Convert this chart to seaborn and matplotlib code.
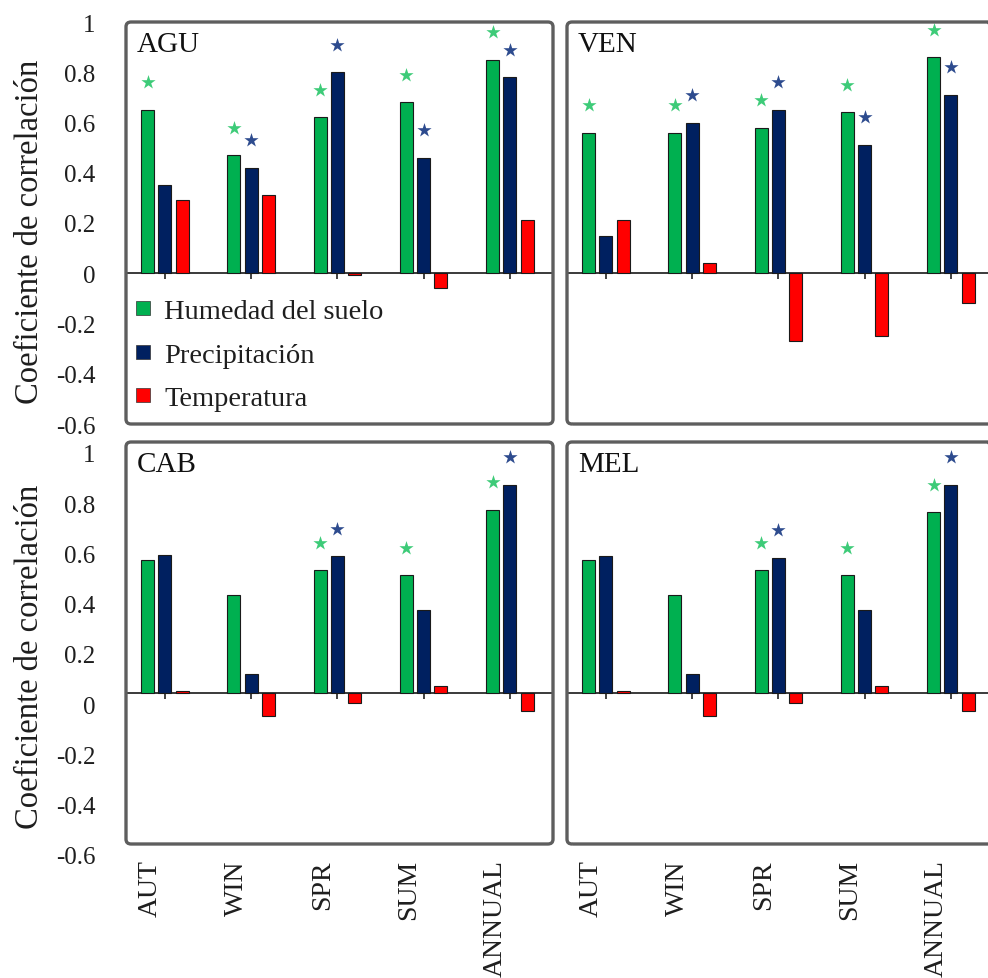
import numpy as np
import pandas as pd
import matplotlib
matplotlib.use("Agg")
import matplotlib.pyplot as plt
import matplotlib.transforms as mtransforms
from matplotlib.patches import FancyBboxPatch
from matplotlib.lines import Line2D
import seaborn as sns

# ---- data -------------------------------------------------------------
seasons = ["AUT", "WIN", "SPR", "SUM", "ANNUAL"]
variables = ["Humedad del suelo", "Precipitación", "Temperatura"]

agu_soil = [0.65, 0.47, 0.62, 0.68, 0.85]
agu_prec = [0.35, 0.42, 0.80, 0.46, 0.78]
agu_temp = [0.29, 0.31, -0.006, -0.06, 0.21]
agu_sig_soil = [1, 1, 1, 1, 1]
agu_sig_prec = [0, 1, 1, 1, 1]

ven_soil = [0.56, 0.56, 0.58, 0.64, 0.86]
ven_prec = [0.15, 0.60, 0.65, 0.51, 0.71]
ven_temp = [0.21, 0.04, -0.27, -0.25, -0.12]
ven_sig_soil = [1, 1, 1, 1, 1]
ven_sig_prec = [0, 1, 1, 1, 1]

cab_soil = [0.53, 0.39, 0.49, 0.47, 0.73]
cab_prec = [0.55, 0.075, 0.545, 0.33, 0.83]
cab_temp = [0.01, -0.09, -0.04, 0.03, -0.07]
cab_sig_soil = [0, 0, 1, 1, 1]
cab_sig_prec = [0, 0, 1, 0, 1]

mel_soil = [0.53, 0.39, 0.49, 0.47, 0.72]
mel_prec = [0.545, 0.075, 0.54, 0.33, 0.83]
mel_temp = [0.01, -0.09, -0.04, 0.03, -0.07]
mel_sig_soil = [0, 0, 1, 1, 1]
mel_sig_prec = [0, 0, 1, 0, 1]

stations = ["AGU", "VEN", "CAB", "MEL"]
panel_data = {
    "AGU": (agu_soil, agu_prec, agu_temp, agu_sig_soil, agu_sig_prec),
    "VEN": (ven_soil, ven_prec, ven_temp, ven_sig_soil, ven_sig_prec),
    "CAB": (cab_soil, cab_prec, cab_temp, cab_sig_soil, cab_sig_prec),
    "MEL": (mel_soil, mel_prec, mel_temp, mel_sig_soil, mel_sig_prec),
}

yticks = [-0.6, -0.4, -0.2, 0, 0.2, 0.4, 0.6, 0.8, 1]
ytick_labels = ["-0.6", "-0.4", "-0.2", "0", "0.2", "0.4", "0.6", "0.8", "1"]

# ---- style ------------------------------------------------------------
sns.set_style("white")
plt.rcParams["font.family"] = ["Liberation Serif", "DejaVu Serif"]

bar_colors = ["#00B050", "#002060", "#FF0000"]
star_colors = ["#3DCB78", "#2D4B8E"]
text_color = "#1e1e1e"
ymin, ymax = -0.6, 1.0

fig = plt.figure(figsize=(9.88, 9.79), dpi=100)

W, H = 988, 979
def px_axes(left, top, width, height):
    return fig.add_axes([left / W, 1 - (top + height) / H, width / W, height / H])

positions = {
    "AGU": (126, 23, 427, 402),
    "VEN": (567, 23, 427, 402),
    "CAB": (126, 443, 427, 402),
    "MEL": (567, 443, 427, 402),
}

for name in stations:
    soil, prec, temp, sig_s, sig_p = panel_data[name]
    ax = px_axes(*positions[name])
    df = pd.DataFrame({
        "season": seasons * 3,
        "variable": [variables[0]] * 5 + [variables[1]] * 5 + [variables[2]] * 5,
        "value": list(soil) + list(prec) + list(temp),
    })
    sns.barplot(data=df, x="season", y="value", hue="variable",
                order=seasons, hue_order=variables, palette=bar_colors,
                width=0.6, gap=0.25, edgecolor="#1a1a1a", linewidth=0.8,
                saturation=1, legend=False, ax=ax, zorder=2)

    # significance markers above the soil-moisture and precipitation bars
    xs = np.arange(len(seasons))
    for offset, vals, sig, col in ((-0.2, soil, sig_s, star_colors[0]),
                                   (0.0, prec, sig_p, star_colors[1])):
        v = np.asarray(vals)
        m = np.asarray(sig, dtype=bool)
        ax.scatter(xs[m] + offset, v[m] + 0.11, marker="*", s=115,
                   color=col, linewidths=0, zorder=3)

    ax.set_xlim(-0.45, 4.5)
    ax.set_ylim(ymin, ymax)
    ax.set_xlabel("")
    ax.set_ylabel("")

    # zero line with category ticks
    sec = ax.secondary_xaxis((0 - ymin) / (ymax - ymin))
    sec.set_xticks(xs)
    sec.tick_params(axis="x", length=4, width=1.3, color="#333333",
                    direction="out", labelbottom=False, labeltop=False)
    for sp in sec.spines.values():
        sp.set_color("#3a3a3a")
        sp.set_linewidth(1.4)

    for sp in ax.spines.values():
        sp.set_visible(False)
    frame = FancyBboxPatch((0, 0), 1, 1, boxstyle="round,pad=0,rounding_size=0.012",
                           transform=ax.transAxes, fill=False,
                           edgecolor="#5e5e5e", linewidth=2.4, clip_on=False, zorder=5)
    ax.add_patch(frame)

    ax.text(0.026, 0.945, name, transform=ax.transAxes, ha="left", va="center",
            fontsize=21, color="#111111")

    left_col = name in ("AGU", "CAB")
    bottom_row = name in ("CAB", "MEL")

    if left_col:
        ax.set_yticks(yticks, ytick_labels)
        ax.tick_params(axis="y", length=0, pad=22, labelsize=18, labelcolor=text_color)
        ax.set_ylabel("Coeficiente de correlación", fontsize=23.5, color=text_color)
        ax.yaxis.set_label_coords(-0.19, 0.48 if not bottom_row else 0.467)
        if bottom_row:
            shift = mtransforms.ScaledTranslation(0, -11 / 100, fig.dpi_scale_trans)
            for lab in ax.get_yticklabels():
                lab.set_transform(lab.get_transform() + shift)
    else:
        ax.set_yticks([])

    if bottom_row:
        ax.set_xticks(xs, seasons)
        ax.tick_params(axis="x", length=0, pad=11, labelsize=20,
                       labelrotation=90, labelcolor=text_color)
        shift = mtransforms.ScaledTranslation(-15 / 100, 0, fig.dpi_scale_trans)
        for lab in ax.get_xticklabels():
            lab.set_verticalalignment("top")
            lab.set_transform(lab.get_transform() + shift)
    else:
        ax.set_xticks([])

    if name == "AGU":
        handles = [Line2D([], [], linestyle="none", marker="s", markersize=9.5,
                          markerfacecolor=c, markeredgecolor="#333333",
                          markeredgewidth=0.5) for c in bar_colors]
        ax.legend(handles, variables, loc="center left",
                  bbox_to_anchor=(0.0, 0.172), frameon=False, fontsize=20.5,
                  handlelength=0.6, handletextpad=0.45, labelspacing=0.62,
                  borderaxespad=0.0, borderpad=0.3, labelcolor=text_color)

fig.savefig("out.png", dpi=100)
